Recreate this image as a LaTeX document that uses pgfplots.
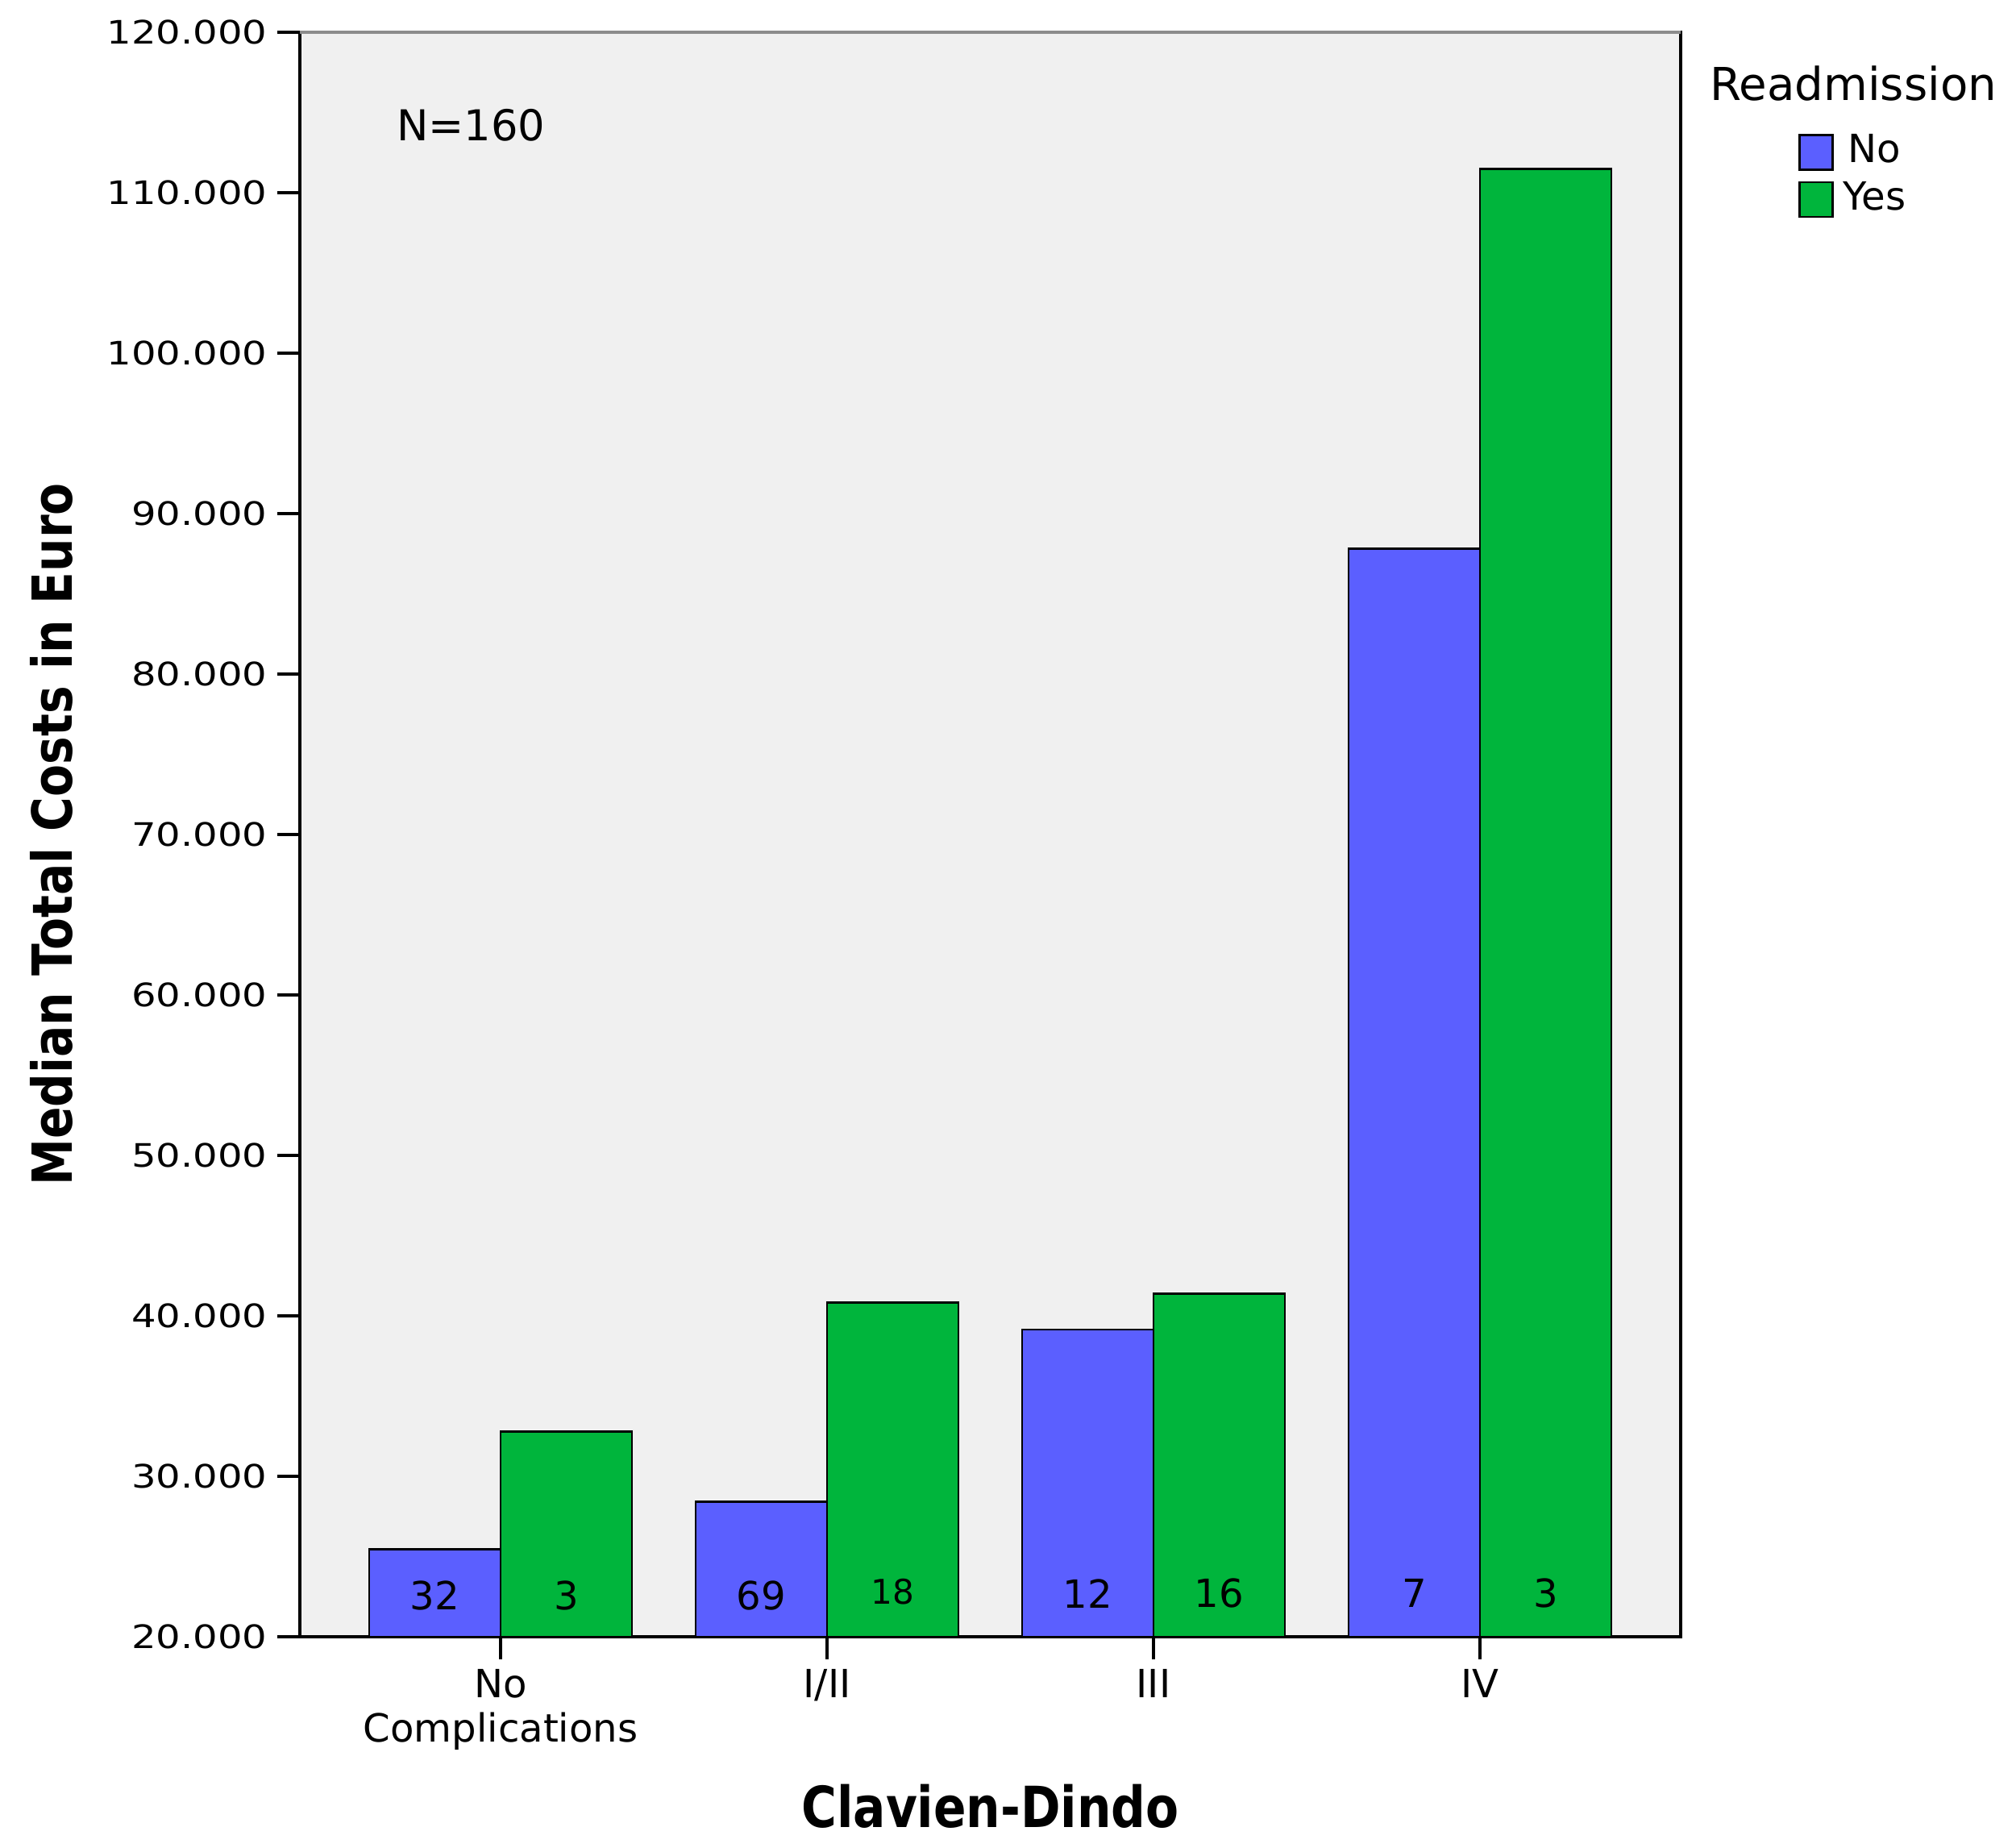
\documentclass[border=0pt]{standalone}
\usepackage{pgfplots}
\pgfplotsset{compat=1.18}
\usepackage{fontspec}
\setmainfont{DejaVu Sans}
\newfontfamily\tickfont[FakeStretch=1.2]{DejaVu Sans}
\newfontfamily\labfont[FakeStretch=0.85]{DejaVu Sans}
\definecolor{barNo}{RGB}{91,95,255}
\definecolor{barYes}{RGB}{0,181,60}
\definecolor{panel}{RGB}{240,240,240}

\begin{document}
\begin{tikzpicture}
\useasboundingbox (-3.72cm,-2.61cm) rectangle ++(25.01cm,22.91cm);
\begin{axis}[
  at={(0,0)}, anchor=south west,
  scale only axis,
  width=17.13cm, height=19.9cm,
  xmin=-0.615, xmax=3.615,
  ymin=20000, ymax=120000,
  ybar=0pt, bar width=1.63cm,
  axis background/.style={fill=panel},
  axis line style={line width=1.4pt},
  tick align=outside, major tick length=0.28cm,
  tick style={black, line width=1.2pt},
  xtick pos=bottom, ytick pos=left,
  xtick=data,
  xticklabels={{No\\Complications},I/II,III,IV},
  xticklabel style={align=center, font=\fontsize{13.7}{15.5}\selectfont},
  ytick={20000,30000,40000,50000,60000,70000,80000,90000,100000,110000,120000},
  yticklabels={20.000,30.000,40.000,50.000,60.000,70.000,80.000,90.000,100.000,110.000,120.000},
  yticklabel style={font=\tickfont\fontsize{11.4}{13}\selectfont, inner ysep=0pt},
  xlabel={Clavien-Dindo},
  ylabel={Median Total Costs in Euro},
  xlabel style={at={(axis description cs:0.5,-0.1055)}, anchor=center,
    font=\labfont\bfseries\fontsize{20}{22}\selectfont},
  ylabel style={at={(axis description cs:-0.1798,0.5)}, anchor=center,
    font=\labfont\bfseries\fontsize{19.5}{22}\selectfont},
  legend style={at={(axis description cs:1,1)}, anchor=north west,
    xshift=1.45cm, yshift=-1.25cm, draw=none, fill=none, inner sep=0pt,
    font=\fontsize{13.7}{16}\selectfont, row sep=0.13cm,
    nodes={inner sep=0pt, text height=0.35cm, text depth=0.1cm}},
  legend image code/.code={\draw[#1] (0cm,-0.21cm) rectangle (0.41cm,0.22cm);},
  clip=false,
]
\addplot[fill=barNo, draw=black, line width=0.8pt] coordinates {
  (0,25450) (1,28400) (2,39150) (3,87800)
};
\addlegendentry{\hspace{0.12cm}No}
\addplot[fill=barYes, draw=black, line width=0.8pt] coordinates {
  (0,32800) (1,40850) (2,41400) (3,111500)
};
\addlegendentry{\hspace{0.12cm}Yes}

% case counts inside the bars
\begin{scope}[every node/.style={font=\fontsize{13.7}{16}\selectfont}]
\node[xshift=-0.815cm] at (axis cs:0,22560) {32};
\node[xshift=0.815cm]  at (axis cs:0,22560) {3};
\node[xshift=-0.815cm] at (axis cs:1,22560) {69};
\node[xshift=0.815cm,font=\fontsize{12}{14}\selectfont] at (axis cs:1,22800) {18};
\node[xshift=-0.815cm] at (axis cs:2,22700) {12};
\node[xshift=0.815cm]  at (axis cs:2,22700) {16};
\node[xshift=-0.815cm] at (axis cs:3,22700) {7};
\node[xshift=0.815cm]  at (axis cs:3,22700) {3};
\end{scope}

% top border is a lighter grey in the original
\draw[line width=1.4pt, gray!90] (rel axis cs:0,1) -- (rel axis cs:1,1);

\node[font=\fontsize{15}{17}\selectfont] at (rel axis cs:0.124,0.942) {N=160};
\node[font=\fontsize{16}{19}\selectfont] at (rel axis cs:1.125,0.968) {Readmission};
\end{axis}
\end{tikzpicture}
\end{document}
